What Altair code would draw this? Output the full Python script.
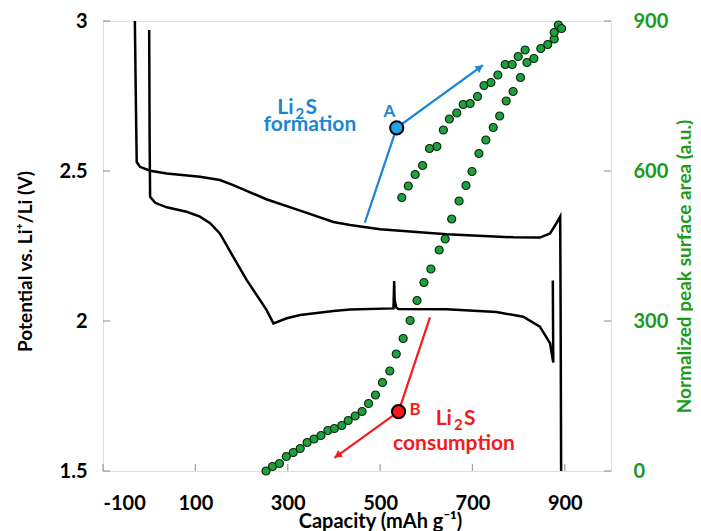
import altair as alt
import pandas as pd

# ---- black potential profiles (capacity in mAh/g, potential in V) ----
cap_upper = [-31, -29, -27, -20, 2, 38, 110, 153, 182, 255, 327, 399, 435, 500,
             644, 789, 846, 868, 882, 890, 891, 892]
v_upper = [3.00, 2.75, 2.53, 2.514, 2.501, 2.492, 2.481, 2.47, 2.453, 2.405, 2.368,
           2.33, 2.32, 2.306, 2.289, 2.279, 2.278, 2.292, 2.326, 2.348, 2.0, 1.5]

cap_lower = [0, 1, 2, 13, 38, 81, 110, 132, 153, 182, 211, 254, 269, 298, 327, 399,
             435, 529, 530.5, 531.5, 535, 540, 644, 752, 810, 846, 868, 874, 875, 874]
v_lower = [2.97, 2.60, 2.414, 2.394, 2.379, 2.364, 2.348, 2.326, 2.292, 2.214, 2.137,
           2.037, 1.992, 2.009, 2.02, 2.033, 2.038, 2.042, 2.133, 2.07, 2.045, 2.04,
           2.039, 2.03, 2.014, 1.981, 1.926, 1.87, 1.862, 2.135]

# ---- green points: normalized peak surface area (a.u.) ----
dots1_cap = [253, 267, 282, 297, 312, 327, 342, 357, 372, 387, 401, 417, 431, 446, 461,
             475, 490, 505, 521, 535, 550, 565, 580, 595, 610, 628, 641, 655, 671, 686,
             699, 714, 729, 745, 759, 773, 788, 804, 818, 833, 848, 863, 877, 877, 886, 893]
dots1_area = [0, 9, 15, 29, 37, 45, 57, 64, 71, 81, 85, 91, 101, 110, 119, 135, 152, 177,
              200, 234, 265, 301, 341, 377, 404, 442, 464, 504, 540, 571, 599, 635, 662,
              687, 710, 740, 759, 787, 817, 825, 845, 853, 864, 877, 892, 885]
dots2_cap = [547, 561, 576, 592, 607, 623, 637, 650, 666, 680, 695, 711, 725, 740, 755,
             771, 786, 799, 814]
dots2_area = [547, 570, 593, 611, 645, 649, 682, 704, 716, 733, 735, 749, 771, 777, 792,
              813, 813, 829, 842]

# ---- axes ----
x_ticks = [-100, 100, 300, 500, 700, 900]
yl_ticks = [1.5, 2, 2.5, 3]
yr_ticks = [0, 300, 600, 900]
X_DOMAIN = [-100, 1000]
YL_DOMAIN = [1.5, 3]
YR_DOMAIN = [0, 900]

# ---- annotations ----
blue_cap = [467, 536, 723]
blue_v = [2.328, 2.644, 2.853]
red_cap = [608, 540, 401]
red_v = [2.012, 1.698, 1.544]
li2s_cap = [319, 662]          # centres of the two "Li2S" labels
li2s_v = [2.71, 1.673]
li2s_col = ["blue", "red"]
word_text = ["formation", "consumption"]
word_cap = [348, 660]
word_v = [2.653, 1.59]
word_col = ["blue", "red"]
letter_text = ["A", "B"]
letter_cap = [520, 576]
letter_v = [2.698, 1.703]
letter_col = ["blue", "red"]

BLUE = "#1c86d2"
BLUE_FILL = "#1ea4ea"
RED = "#f51a1a"
GREEN = "#1b9a1b"
DOT = "#1fa040"
FONT = "Lato"
GRAY = "#7f7f7f"

curves = pd.DataFrame({
    "Cap": cap_upper + cap_lower,
    "V": v_upper + v_lower,
    "curve": ["upper"] * len(cap_upper) + ["lower"] * len(cap_lower),
    "i": list(range(len(cap_upper))) + list(range(len(cap_lower))),
})
dots = pd.DataFrame({"Cap": dots1_cap + dots2_cap, "R": dots1_area + dots2_area})
blue = pd.DataFrame({"Cap": blue_cap, "V": blue_v, "i": range(len(blue_cap))})
red = pd.DataFrame({"Cap": red_cap, "V": red_v, "i": range(len(red_cap))})
li2s = pd.DataFrame({"Cap": li2s_cap, "V": li2s_v, "c": li2s_col})
words = pd.DataFrame({"Cap": word_cap, "V": word_v, "t": word_text, "c": word_col})
letters = pd.DataFrame({"Cap": letter_cap, "V": letter_v, "t": letter_text, "c": letter_col})
xt = pd.DataFrame({"Cap": x_ticks, "V": [YL_DOMAIN[0]] * len(x_ticks)})
ylt = pd.DataFrame({"Cap": [X_DOMAIN[0]] * len(yl_ticks), "V": yl_ticks})
yrt = pd.DataFrame({"Cap": [X_DOMAIN[1]] * len(yr_ticks), "R": yr_ticks})

common_axis = dict(ticks=False, domain=False, grid=False, labelFont=FONT,
                   labelFontWeight="bold", labelFontSize=20, titleFont=FONT,
                   titleFontWeight="bold")

x_enc = alt.X("Cap:Q", scale=alt.Scale(domain=X_DOMAIN, nice=False, zero=False),
              axis=alt.Axis(values=x_ticks, format="d",
                            labelExpr="replace(datum.label, '−', '-')",
                            labelPadding=22, labelColor="black",
                            title="Capacity (mAh g⁻¹)", titleFontSize=20,
                            titleX=277, titleY=56, titleBaseline="alphabetic",
                            titleColor="black", **common_axis))
yl_enc = alt.Y("V:Q", scale=alt.Scale(domain=YL_DOMAIN, nice=False, zero=False),
               axis=alt.Axis(values=yl_ticks, format=".1~f", labelPadding=16,
                             labelColor="black",
                             title="Potential vs. Li⁺/Li (V)", titleFontSize=19,
                             titleX=-78, titleY=240, titleAngle=270,
                             titleBaseline="middle", titleColor="black", **common_axis))
yr_enc = alt.Y("R:Q", scale=alt.Scale(domain=YR_DOMAIN, nice=False, zero=False),
               axis=alt.Axis(orient="right", values=yr_ticks, format="d",
                             labelPadding=22, labelColor=GREEN,
                             title="Normalized peak surface area (a.u.)",
                             titleFontSize=19, titleX=73, titleY=245, titleAngle=270,
                             titleBaseline="middle", titleColor=GREEN, **common_axis))

col_enc = alt.Color("c:N", scale=alt.Scale(domain=["blue", "red"], range=[BLUE, RED]),
                    legend=None)

curve_layer = alt.Chart(curves).mark_line(color="black", strokeWidth=2.5).encode(
    x=x_enc, y=yl_enc, detail="curve:N", order="i:Q")
blue_line = alt.Chart(blue).mark_line(color=BLUE, strokeWidth=2.2).encode(
    x=x_enc, y=yl_enc, order="i:Q")
red_line = alt.Chart(red).mark_line(color=RED, strokeWidth=2.2).encode(
    x=x_enc, y=yl_enc, order="i:Q")
blue_head = alt.Chart(blue.tail(1)).mark_point(
    shape="triangle-up", filled=True, color=BLUE, size=70, angle=54,
    xOffset=-3.2, yOffset=2.4, opacity=1).encode(x=x_enc, y=yl_enc)
red_head = alt.Chart(red.tail(1)).mark_point(
    shape="triangle-up", filled=True, color=RED, size=70, angle=234,
    xOffset=3.2, yOffset=-2.4, opacity=1).encode(x=x_enc, y=yl_enc)
pt_a = alt.Chart(blue.iloc[[1]]).mark_point(
    shape="circle", filled=True, fill=BLUE_FILL, stroke="black", strokeWidth=2,
    size=175, opacity=1).encode(x=x_enc, y=yl_enc)
pt_b = alt.Chart(red.iloc[[1]]).mark_point(
    shape="circle", filled=True, fill=RED, stroke="black", strokeWidth=2,
    size=175, opacity=1).encode(x=x_enc, y=yl_enc)

li_part = alt.Chart(li2s).mark_text(font=FONT, fontWeight="bold", fontSize=21,
                                    align="right", dx=-3).encode(
    x=x_enc, y=yl_enc, color=col_enc, text=alt.value("Li"))
sub_part = alt.Chart(li2s).mark_text(font=FONT, fontWeight="bold", fontSize=15,
                                     align="left", dx=-1, dy=6).encode(
    x=x_enc, y=yl_enc, color=col_enc, text=alt.value("2"))
s_part = alt.Chart(li2s).mark_text(font=FONT, fontWeight="bold", fontSize=21,
                                   align="left", dx=9).encode(
    x=x_enc, y=yl_enc, color=col_enc, text=alt.value("S"))
word_layer = alt.Chart(words).mark_text(font=FONT, fontWeight="bold", fontSize=21).encode(
    x=x_enc, y=yl_enc, color=col_enc, text="t:N")
letter_layer = alt.Chart(letters).mark_text(font=FONT, fontWeight="bold", fontSize=17).encode(
    x=x_enc, y=yl_enc, color=col_enc, text="t:N")

xtick_layer = alt.Chart(xt).mark_tick(orient="vertical", size=7, thickness=1.3,
                                      color=GRAY, yOffset=-3.5).encode(x=x_enc, y=yl_enc)
yltick_layer = alt.Chart(ylt).mark_tick(orient="horizontal", size=7, thickness=1.3,
                                        color=GRAY, xOffset=3.5).encode(x=x_enc, y=yl_enc)

left = alt.layer(curve_layer, blue_line, red_line, blue_head, red_head, pt_a, pt_b,
                 li_part, sub_part, s_part, word_layer, letter_layer,
                 xtick_layer, yltick_layer)

dot_layer = alt.Chart(dots).mark_point(
    shape="circle", filled=True, fill=DOT, stroke="#0b2a0b", strokeWidth=1.2,
    size=64, opacity=1).encode(x=x_enc, y=yr_enc)
yrtick_layer = alt.Chart(yrt).mark_tick(orient="horizontal", size=7, thickness=1.3,
                                        color=GRAY, xOffset=-3.5).encode(x=x_enc, y=yr_enc)
right = alt.layer(dot_layer, yrtick_layer)

chart = alt.layer(left, right).resolve_scale(y="independent").properties(
    width=508, height=450,
    autosize=alt.AutoSizeParams(type="none"),
    padding={"left": 95, "top": 13, "right": 82, "bottom": 60},
).configure_view(stroke=GRAY, strokeWidth=1.5).configure(background="white")

chart.save("out.html", embed_options={"renderer": "svg", "actions": False})
